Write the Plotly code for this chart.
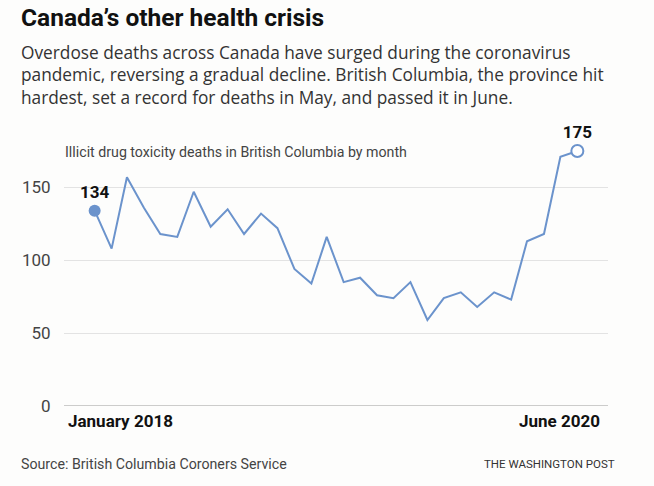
import plotly.graph_objects as go
import pandas as pd

months = pd.date_range("2018-01-01", "2020-06-01", freq="MS")
deaths = [134, 108, 157, 136, 118, 116, 147, 123, 135, 118,
          132, 122, 94, 84, 116, 85, 88, 76, 74, 85,
          59, 74, 78, 68, 78, 73, 113, 118, 171, 175]
first_label = "January 2018"
last_label = "June 2020"
y_ticks = [0, 50, 100, 150]
title = "Canada’s other health crisis"
subtitle_lines = [
    "Overdose deaths across Canada have surged during the coronavirus",
    "pandemic, reversing a gradual decline. British Columbia, the province hit",
    "hardest, set a record for deaths in May, and passed it in June.",
]
chart_label = "Illicit drug toxicity deaths in British Columbia by month"
source = "Source: British Columbia Coroners Service"
credit = "THE WASHINGTON POST"

BLUE = "#6b93cc"
FONT = "Roboto"
BODY = "Open Sans"

L, R, T, B = 64, 46, 140, 80
PW, PH = 654 - L - R, 486 - T - B

def px(x):
    return (x - L) / PW

def py(y):
    return (486 - B - y) / PH

fig = go.Figure()
fig.add_trace(go.Scatter(x=list(months), y=deaths, mode="lines",
                         line=dict(color=BLUE, width=2), hoverinfo="skip"))
fig.add_trace(go.Scatter(x=[months[0]], y=[deaths[0]], mode="markers+text",
                         marker=dict(color=BLUE, size=12), cliponaxis=False,
                         text=[f"<b>{deaths[0]}</b>"], textposition="top center",
                         textfont=dict(family=FONT, size=17, color="#111")))
fig.add_trace(go.Scatter(x=[months[-1]], y=[deaths[-1]], mode="markers+text",
                         marker=dict(color="white", size=12, line=dict(color=BLUE, width=2)),
                         cliponaxis=False,
                         text=[f"<b>{deaths[-1]}</b>"], textposition="top center",
                         textfont=dict(family=FONT, size=17, color="#111")))

pad = pd.Timedelta(days=56)
fig.update_layout(
    width=654, height=486,
    margin=dict(l=L, r=R, t=T, b=B),
    paper_bgcolor="#fdfdfc", plot_bgcolor="#fdfdfc",
    showlegend=False,
    font=dict(family=FONT, color="#333"),
    xaxis=dict(range=[months[0] - pad, months[-1] + pad], showgrid=False,
               showticklabels=False, zeroline=False, showline=False),
    yaxis=dict(range=[0, 182.5], tickvals=y_ticks, showgrid=True, gridcolor="#e3e3e3",
               gridwidth=1, zeroline=False, showline=False,
               ticks="outside", ticklen=9, tickcolor="rgba(0,0,0,0)",
               tickfont=dict(family=FONT, size=17, color="#444")),
)
fig.add_shape(type="line", xref="paper", yref="y", x0=0, x1=1, y0=0, y1=0,
              line=dict(color="#bbbbbb", width=1.5))

fig.add_annotation(xref="paper", yref="paper", x=px(19), y=py(17),
                   xanchor="left", yanchor="middle", showarrow=False,
                   text=f"<b>{title}</b>",
                   font=dict(family=FONT, size=24.5, color="#111"))
fig.add_annotation(xref="paper", yref="paper", x=px(19), y=py(75),
                   xanchor="left", yanchor="middle", showarrow=False, align="left",
                   text="<br>".join(subtitle_lines),
                   font=dict(family=BODY, size=17.3, color="#333"))
fig.add_annotation(xref="paper", yref="paper", x=px(63), y=py(152),
                   xanchor="left", yanchor="middle", showarrow=False,
                   text=chart_label,
                   font=dict(family=FONT, size=14.2, color="#444"))
fig.add_annotation(xref="paper", yref="paper", x=px(66), y=py(421),
                   xanchor="left", yanchor="middle", showarrow=False,
                   text=f"<b>{first_label}</b>",
                   font=dict(family=FONT, size=17, color="#111"))
fig.add_annotation(xref="paper", yref="paper", x=px(602), y=py(421),
                   xanchor="right", yanchor="middle", showarrow=False,
                   text=f"<b>{last_label}</b>",
                   font=dict(family=FONT, size=17, color="#111"))
fig.add_annotation(xref="paper", yref="paper", x=px(19), y=py(464),
                   xanchor="left", yanchor="middle", showarrow=False,
                   text=source,
                   font=dict(family=FONT, size=14.2, color="#444"))
fig.add_annotation(xref="paper", yref="paper", x=px(617), y=py(464),
                   xanchor="right", yanchor="middle", showarrow=False,
                   text=credit,
                   font=dict(family=FONT, size=11.5, color="#333"))

fig.write_html("out.html")
